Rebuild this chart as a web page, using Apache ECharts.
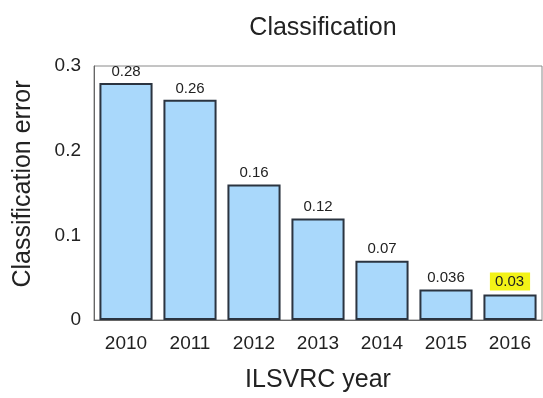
<!DOCTYPE html>
<html>
<head>
<meta charset="utf-8">
<script src="https://cdn.jsdelivr.net/npm/echarts@6/dist/echarts.min.js"></script>
<style>
  html, body { margin: 0; padding: 0; background: #fff; }
  #chart { width: 543px; height: 398px; }
</style>
</head>
<body>
<div id="chart"></div>
<script>
// ILSVRC top-5 classification error by year
const years = ['2010', '2011', '2012', '2013', '2014', '2015', '2016'];
const errors = [0.28, 0.26, 0.16, 0.12, 0.07, 0.036, 0.03];
const valueLabels = ['0.28', '0.26', '0.16', '0.12', '0.07', '0.036', '0.03'];
const yTicks = [0, 0.1, 0.2, 0.3];
const highlightYear = '2016';

const FONT = 'Liberation Sans, Arial, Helvetica, sans-serif';

const chart = echarts.init(document.getElementById('chart'), null, { renderer: 'canvas' });

const barData = errors.map((v, i) => {
  const item = { value: v };
  if (years[i] === highlightYear) {
    item.label = {
      backgroundColor: '#f3f317',
      padding: [2, 6, 1, 5]
    };
  }
  return item;
});

chart.setOption({
  animation: false,
  backgroundColor: '#ffffff',
  title: {
    text: 'Classification',
    left: 318,
    textAlign: 'center',
    top: 11,
    textStyle: { fontFamily: FONT, fontSize: 25, fontWeight: 'normal', color: '#222' }
  },
  grid: {
    left: 94, right: 1, top: 66, bottom: 78,
    show: true, borderColor: '#8a8a8a', borderWidth: 1, backgroundColor: 'transparent'
  },
  xAxis: {
    type: 'category',
    data: years,
    name: 'ILSVRC year',
    nameLocation: 'middle',
    nameGap: 48,
    nameTextStyle: { fontFamily: FONT, fontSize: 25, color: '#222' },
    axisLine: { lineStyle: { color: '#666', width: 1 } },
    axisTick: { show: false },
    axisLabel: { fontFamily: FONT, fontSize: 19, color: '#222', margin: 14 }
  },
  yAxis: {
    type: 'value',
    min: yTicks[0],
    max: yTicks[yTicks.length - 1],
    interval: 0.1,
    name: 'Classification error',
    nameLocation: 'middle',
    nameGap: 58,
    nameTextStyle: { fontFamily: FONT, fontSize: 25, color: '#222', padding: [0, 0, 0, 18] },
    axisLine: { show: true, lineStyle: { color: '#666', width: 1 } },
    axisTick: { show: false },
    splitLine: { show: false },
    axisLabel: {
      fontFamily: FONT, fontSize: 19, color: '#222', margin: 13,
      formatter: v => (v === 0 ? '0' : v.toFixed(1))
    }
  },
  series: [{
    type: 'bar',
    data: barData,
    barCategoryGap: '17%',
    itemStyle: { color: '#a9d8fb', borderColor: '#2b3440', borderWidth: 2 },
    label: {
      show: true,
      position: 'top',
      distance: 4,
      fontFamily: FONT,
      fontSize: 15,
      color: '#222',
      formatter: p => valueLabels[p.dataIndex]
    }
  }]
});
</script>
</body>
</html>
